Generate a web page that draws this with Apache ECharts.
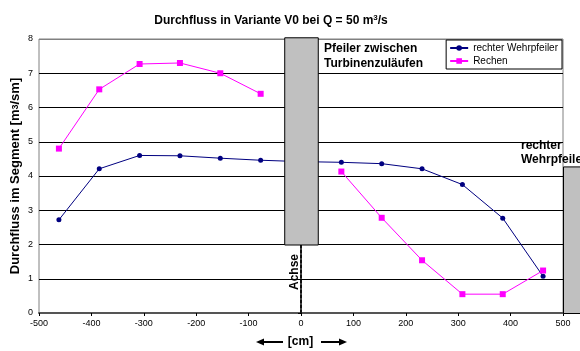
<!DOCTYPE html>
<html>
<head>
<meta charset="utf-8">
<script src="https://cdn.jsdelivr.net/npm/echarts@6/dist/echarts.min.js"></script>
<style>
  html, body { margin: 0; padding: 0; background: #fff; }
  #chart { width: 580px; height: 351px; }
</style>
</head>
<body>
<div id="chart"></div>
<script>
// positions along the segment [cm]
const xPos = [-462, -385, -308, -231, -154, -77, 0, 77, 154, 231, 308, 385, 462];
// rechter Wehrpfeiler (point at 0 sits behind the centre pier)
const wehrpfeiler = [2.72, 4.21, 4.60, 4.59, 4.52, 4.46, 4.42, 4.40, 4.36, 4.21, 3.75, 2.77, 1.07];
// Rechen (gap at the pier)
const rechen = [4.80, 6.53, 7.27, 7.30, 7.00, 6.40, null, 4.13, 2.78, 1.54, 0.55, 0.55, 1.24];
// piers: [x0, x1, y0, y1]
const piers = [[-32, 32, 2, 8.05], [500, 560, 0, 4.28]];
// centre axis (dashed)
const achse = [[0, 0], [0, 2]];

const F = "'Liberation Sans', Arial, sans-serif";

const chart = echarts.init(document.getElementById("chart"), null, { renderer: "canvas" });

const pairs = (ys) => xPos.map((x, i) => [x, ys[i]]);

chart.setOption({
  animation: false,
  title: {
    text: "Durchfluss in Variante V0 bei Q = 50 m{sup|3}/s",
    left: 266, top: 9, textAlign: "center",
    textStyle: {
      fontFamily: F, fontSize: 12, fontWeight: "bold", color: "#000",
      rich: { sup: { fontFamily: F, fontSize: 8, fontWeight: "bold", verticalAlign: "top", padding: [0, 0, 6, 0] } }
    }
  },
  grid: {
    left: 39, right: 17, top: 39, bottom: 38, containLabel: false, outerBoundsMode: "none",
    show: true, borderColor: "#808080", borderWidth: 1, backgroundColor: "#fff"
  },
  legend: {
    right: 18, top: 40, orient: "vertical", itemGap: 3, itemWidth: 18, itemHeight: 7,
    backgroundColor: "#fff", borderColor: "#000", borderWidth: 1, padding: [3, 4, 3, 3],
    textStyle: { fontFamily: F, fontSize: 10, color: "#000" },
    data: ["rechter Wehrpfeiler", "Rechen"]
  },
  xAxis: {
    type: "value", min: -500, max: 500, interval: 100,
    axisLine: { lineStyle: { color: "#555", width: 2 } },
    axisTick: { show: true, length: 3, lineStyle: { color: "#000" } },
    axisLabel: { fontFamily: F, fontSize: 9, color: "#000", margin: 6 },
    splitLine: { show: false }
  },
  yAxis: {
    type: "value", min: 0, max: 8, interval: 1,
    name: "Durchfluss im Segment [m{sup|3}/sm]",
    nameLocation: "middle", nameGap: 17, nameRotate: 90, nameMoveOverlap: false,
    nameTextStyle: {
      fontFamily: F, fontSize: 13, fontWeight: "bold", color: "#000",
      rich: { sup: { fontFamily: F, fontSize: 9, fontWeight: "bold" } }
    },
    axisLine: { show: true, lineStyle: { color: "#000", width: 1.5 } },
    axisTick: { show: true, length: 3, lineStyle: { color: "#000" } },
    axisLabel: { fontFamily: F, fontSize: 9, color: "#000", margin: 6 },
    splitLine: { lineStyle: { color: ["#000", "#000", "#000", "#000", "#000", "#000", "#000", "#000", "#808080"], width: 1 } }
  },
  series: [
    {
      name: "rechter Wehrpfeiler", type: "line", data: pairs(wehrpfeiler), z: 2,
      symbol: "circle", symbolSize: 5, showAllSymbol: true,
      lineStyle: { color: "#000080", width: 1 }, itemStyle: { color: "#000080" }
    },
    {
      name: "Rechen", type: "line", data: pairs(rechen), z: 3, connectNulls: false,
      symbol: "rect", symbolSize: 6,
      lineStyle: { color: "#ff00ff", width: 1 }, itemStyle: { color: "#ff00ff" }
    },
    {
      name: "Pfeiler", type: "custom", data: piers, z: 5, clip: false,
      renderItem: (params, api) => {
        const p0 = api.coord([api.value(0), api.value(3)]);
        const p1 = api.coord([api.value(1), api.value(2)]);
        return {
          type: "rect",
          shape: { x: p0[0] + 0.5, y: p0[1] + 0.5, width: p1[0] - p0[0], height: p1[1] - p0[1] },
          style: { fill: "#c0c0c0", stroke: "#000", lineWidth: 1 }
        };
      },
      encode: { x: [0, 1], y: [2, 3] }
    },
    {
      name: "Achse", type: "line", data: achse, z: 4, symbol: "none",
      lineStyle: { color: "#000", width: 1.5, type: [3, 2] }
    }
  ],
  graphic: [
    { type: "text", left: 324, top: 41, z: 10,
      style: { text: "Pfeiler zwischen\nTurbinenzuläufen", font: "bold 12px " + F, fill: "#000", lineHeight: 15 } },
    { type: "text", left: 521, top: 139, z: 10,
      style: { text: "rechter\nWehrpfeiler", font: "bold 12px " + F, fill: "#000", lineHeight: 14 } },
    { type: "text", x: 295, y: 272, rotation: Math.PI / 2, z: 10,
      style: { text: "Achse", font: "bold 12px " + F, fill: "#000", align: "center", verticalAlign: "middle" } },
    { type: "text", x: 300.5, y: 342, z: 10,
      style: { text: "[cm]", font: "bold 12px " + F, fill: "#000", align: "center", verticalAlign: "middle" } },
    // arrows beside the unit
    { type: "line", z: 10, shape: { x1: 262, y1: 342, x2: 283, y2: 342 }, style: { stroke: "#000", lineWidth: 2 } },
    { type: "polygon", z: 10, shape: { points: [[256, 342], [264, 338.5], [264, 345.5]] }, style: { fill: "#000" } },
    { type: "line", z: 10, shape: { x1: 321, y1: 342, x2: 341, y2: 342 }, style: { stroke: "#000", lineWidth: 2 } },
    { type: "polygon", z: 10, shape: { points: [[347, 342], [339, 338.5], [339, 345.5]] }, style: { fill: "#000" } }
  ]
});
</script>
</body>
</html>
